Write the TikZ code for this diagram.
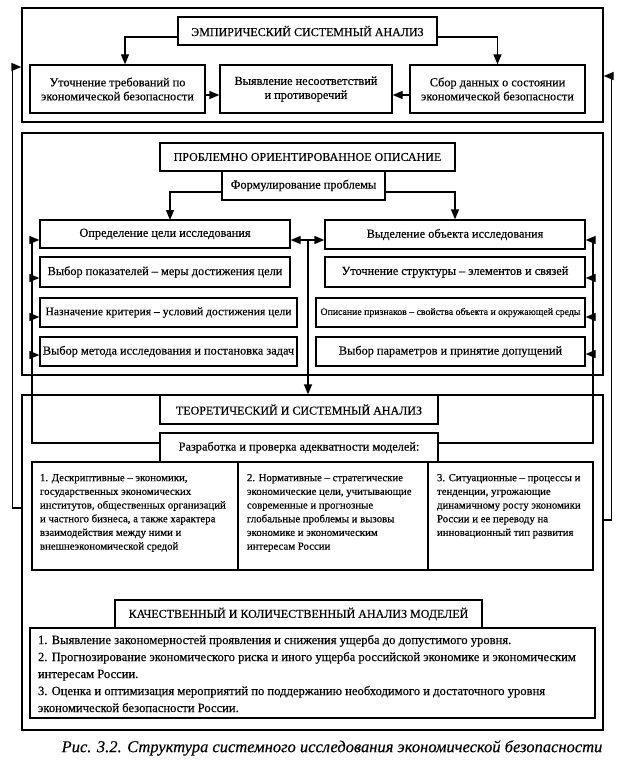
\documentclass[tikz,border=0pt]{standalone}
\usepackage{fontspec}
\setmainfont{Liberation Serif}[FakeBold=0.4]
\usetikzlibrary{arrows.meta,calc}
\newcommand\RB[7][]{\node[bx,#1,minimum width={(#5-#3)*1pt},minimum height={(#6-#4)*1pt}] (#2) at ({(#3+#5)/2},{(#4+#6)/2}) {#7};}
\begin{document}
\begin{tikzpicture}[x=1pt,y=-1pt,line width=1.3pt,
  arr/.style={-{Triangle[length=10pt,width=8pt]}},
  darr/.style={{Triangle[length=10pt,width=8pt]}-{Triangle[length=10pt,width=8pt]}},
  bx/.style={draw,inner sep=0pt,align=center,font=\fontsize{12.3}{14}\selectfont},
  ttl/.style={font=\fontsize{12}{14}\selectfont},
  sml/.style={font=\fontsize{9.8}{11}\selectfont},
  ctxt/.style={anchor=north west,inner sep=0pt,align=left,font=\fontsize{10.8}{13.7}\selectfont},
]
\useasboundingbox (0,0) rectangle (633,765);
% ---------- section 1
\RB{frame1}{22}{8}{603}{122}{}
\RB[ttl]{t1}{178}{17}{437}{45}{ЭМПИРИЧЕСКИЙ СИСТЕМНЫЙ АНАЛИЗ}
\RB{b11}{30}{65}{205}{113}{Уточнение требований по\\экономической безопасности}
\RB{b12}{220}{65}{392}{113}{Выявление несоответствий\\и противоречий}
\RB{b13}{410}{65}{585}{113}{Сбор данных о состоянии\\экономической безопасности}
\draw[arr] ($(t1.west)+(0,6)$) -| ($(b11.north)+(7.5,0)$);
\draw[arr] ($(t1.east)+(0,6)$) -| (b13.north);
\draw[arr] ($(b11.east)+(0,6)$) -- ($(b12.west)+(0,6)$);
\draw[arr] ($(b13.west)+(0,6)$) -- ($(b12.east)+(0,6)$);
% ---------- section 2
\RB{frame2}{22}{133}{603}{375}{}
\RB[ttl]{t2}{160}{143}{455}{171}{ПРОБЛЕМНО ОРИЕНТИРОВАННОЕ ОПИСАНИЕ}
\RB{f2}{222}{171}{385}{200}{Формулирование проблемы}
\RB{L1}{40}{220}{290}{248}{Определение цели исследования}
\RB{L2}{40}{257}{290}{287}{Выбор показателей – меры достижения цели}
\RB[font=\fontsize{11.6}{14}\selectfont]{L3}{40}{298}{297}{327}{Назначение критерия – условий достижения цели}
\RB{L4}{40}{337}{297}{366}{Выбор метода исследования и постановка задач}
\RB{R1}{325}{220}{585}{249}{Выделение объекта исследования}
\RB{R2}{325}{257}{585}{287}{Уточнение структуры – элементов и связей}
\RB[sml]{R3}{316}{298}{585}{327}{Описание признаков – свойства объекта и окружающей среды}
\RB{R4}{316}{337}{585}{366}{Выбор параметров и принятие допущений}
\draw[arr] ($(f2.west)+(0,6.5)$) -| (170,220);
\draw[arr] ($(f2.east)+(0,6.5)$) -| (R1.north -| 455,0);
% ---------- sections 3 and 4
\RB{frame3}{22}{395}{603}{730}{}
\RB[ttl]{t3}{160}{395}{438}{424}{ТЕОРЕТИЧЕСКИЙ И СИСТЕМНЫЙ АНАЛИЗ}
\RB{t3b}{160}{433}{438}{462}{Разработка и проверка адекватности моделей:}
\RB{c1}{32}{462}{238}{570}{}
\RB{c2}{238}{462}{428}{570}{}
\RB{c3}{428}{462}{593}{570}{}
\node[ctxt] (c1t) at ($(c1.north west)+(8,12)$) {1. Дескриптивные – экономики,\\государственных экономических\\институтов, общественных организаций\\и частного бизнеса, а также характера\\взаимодействия между ними и\\внешнеэкономической средой};
\node[ctxt] (c2t) at ($(c2.north west)+(9,12)$) {2. Нормативные – стратегические\\экономические цели, учитывающие\\современные и прогнозные\\глобальные проблемы и вызовы\\экономике и экономическим\\интересам России};
\node[ctxt] (c3t) at ($(c3.north west)+(9,12)$) {3. Ситуационные – процессы и\\тенденции, угрожающие\\динамичному росту экономики\\России и ее переводу на\\инновационный тип развития};
\RB[ttl]{t4}{115}{600}{482}{628}{КАЧЕСТВЕННЫЙ И КОЛИЧЕСТВЕННЫЙ АНАЛИЗ МОДЕЛЕЙ}
\RB{lst}{30}{628}{595}{718}{}
\node[anchor=north west,inner sep=0pt,align=left,font=\fontsize{12.6}{17}\selectfont] (lstt) at ($(lst.north west)+(8,7)$) {1. Выявление закономерностей проявления и снижения ущерба до допустимого уровня.\\2. Прогнозирование экономического риска и иного ущерба российской экономике и экономическим\\интересам России.\\3. Оценка и оптимизация мероприятий по поддержанию необходимого и достаточного уровня\\экономической безопасности России.};
% ---------- centre connector
\coordinate (cj) at (308,240);
\draw[darr] (L1.east |- cj) -- (R1.west |- cj);
\draw[arr] (cj) -- (cj |- frame3.north);
% ---------- inner feedback lines
\coordinate (lj) at (32,240);
\coordinate (rj) at (593,240);
\draw ($(t3b.west)+(0,-4.5)$) -| (lj);
\draw ($(t3b.east)+(0,-4.5)$) -| (rj);
\foreach \n/\yy in {L1/240,L2/278,L3/317,L4/355}{\draw[arr] (32,\yy) -- (\n.west |- 0,\yy);}
\foreach \n/\yy in {R1/240,R2/278,R3/317,R4/354}{\draw[arr] (593,\yy) -- (\n.east |- 0,\yy);}
% ---------- outer feedback lines
\draw[arr] ($(frame3.west)+(0,-54.5)$) -- ++(-9,0) |- ($(frame1.west)+(0,2)$);
\draw[arr] ($(frame3.east)+(0,-42.5)$) -- ++(8,0) |- ($(frame1.east)+(0,11)$);
% ---------- caption
\node[font=\fontsize{16.5}{18}\itshape] (cap) at (332,748) {Рис. 3.2. Структура системного исследования экономической безопасности};
\end{tikzpicture}
\end{document}
